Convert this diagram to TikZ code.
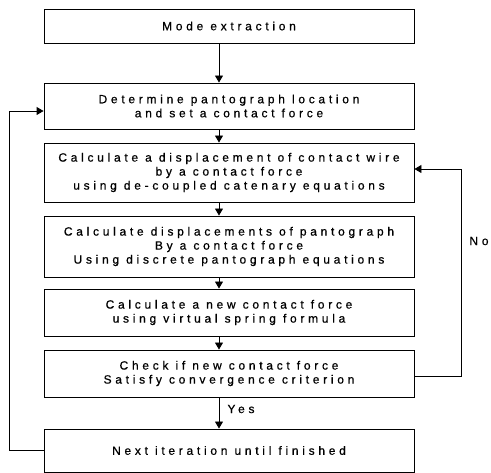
\documentclass[tikz,border=0pt]{standalone}
\usepackage{fontspec}
\setmainfont[LetterSpace=31,FakeBold=0.6]{Liberation Sans}
\usetikzlibrary{arrows.meta}
\begin{document}
\begin{tikzpicture}[x=1pt,y=-1pt,
  box/.style={draw, line width=0.9pt, minimum width=370pt, align=center, inner sep=0pt, font=\fontsize{12}{14}\selectfont},
  arr/.style={-{Triangle[length=7pt,width=8pt]}, line width=0.9pt},
  lbl/.style={font=\fontsize{12}{14}\selectfont, inner sep=0pt}]
\useasboundingbox (0,0) rectangle (491,473);
\coordinate (ax) at (219,0);
\coordinate (lx) at (9,0);
\coordinate (rx) at (461,0);
\node[box, minimum height=34pt] (b1) at (229,26) {Mode extraction};
\node[box, minimum height=46pt] (b2) at (229,106) {Determine pantograph location\\and set a contact force};
\node[box, minimum height=59pt] (b3) at (229,172.5) {Calculate a displacement of contact wire\\by a contact force\\using de-coupled catenary equations};
\node[box, minimum height=61pt] (b4) at (229,246.5) {Calculate displacements of pantograph\\By a contact force\\Using discrete pantograph equations};
\node[box, minimum height=47pt] (b5) at (229,312.5) {Calculate a new contact force\\using virtual spring formula};
\node[box, minimum height=47pt] (b6) at (229,373.5) {Check if new contact force\\Satisfy convergence criterion};
\node[box, minimum height=43pt] (b7) at (229,450.5) {Next iteration until finished};
\draw[arr] (b1.south -| ax) -- (b2.north -| ax);
\draw[arr] (b2.south -| ax) -- (b3.north -| ax);
\draw[arr] (b3.south -| ax) -- (b4.north -| ax);
\draw[arr] (b4.south -| ax) -- (b5.north -| ax);
\draw[arr] (b5.south -| ax) -- (b6.north -| ax);
\draw[arr] (b6.south -| ax) -- (b7.north -| ax);
\draw[arr] (b7.west) -- (b7.west -| lx) |- ([yshift=-5pt]b2.west);
\draw[arr] ([yshift=-2.5pt]b6.east) -- ([yshift=-2.5pt]b6.east -| rx) |- ([yshift=3.5pt]b3.east);
\node[lbl] (no) at (479,241) {No};
\node[lbl] (yes) at (241,409) {Yes};
\end{tikzpicture}
\end{document}
